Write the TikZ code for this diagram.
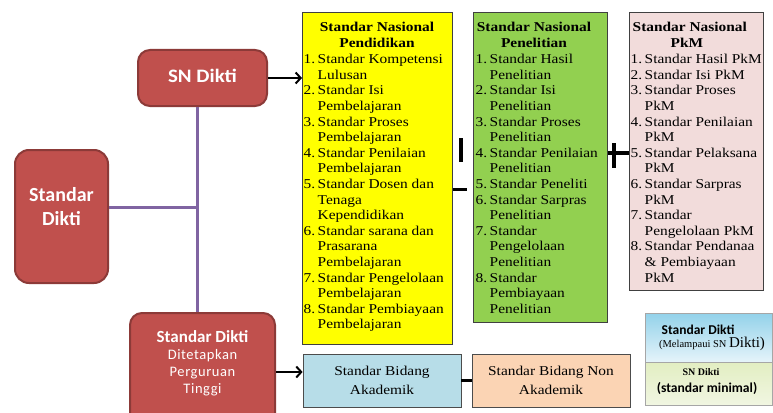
\documentclass[tikz,border=0pt]{standalone}
\usepackage{fontspec}
\setmainfont{Liberation Serif}
\newfontfamily\tnr[FakeStretch=1.14]{Liberation Serif}
\newfontfamily\calf{Carlito}
\newfontfamily\calw[FakeStretch=1.1]{Carlito}
\newfontfamily\calsp[LetterSpace=4]{Carlito}
\usetikzlibrary{arrows.meta}
\definecolor{redfill}{HTML}{C0504D}
\definecolor{redline}{HTML}{8C3A38}
\definecolor{purp}{HTML}{8064A2}
\definecolor{ylw}{HTML}{FFFF00}
\definecolor{grn}{HTML}{92D050}
\definecolor{pnk}{HTML}{F2DCDB}
\definecolor{lblue}{HTML}{B7DDE8}
\definecolor{peach}{HTML}{FBD4B4}
\definecolor{lgtop}{HTML}{93D2EA}
\definecolor{lgmid}{HTML}{E6F4FA}
\definecolor{lggrn}{HTML}{E2EEC2}
\definecolor{lggrnb}{HTML}{F1F6E2}
\newcommand\numi[2]{\makebox[14pt][l]{#1}#2}
\tikzset{
  redbox/.style={draw=redline, line width=2pt, fill=redfill, rounded corners=12pt,
    text=white, align=center, inner sep=0pt},
  listbox/.style={draw=black!75, line width=0.8pt, inner sep=0pt, anchor=north west},
  ttl/.style={font=\tnr\bfseries\fontsize{13.5}{15.6}\selectfont, inner sep=0pt, anchor=north, align=center},
  lst/.style={font=\tnr\fontsize{13.5}{15.6}\selectfont, inner sep=0pt, anchor=north west, align=left},
  arr/.style={-{Straight Barb[length=5pt,width=11pt]}, line width=2pt},
  pline/.style={draw=purp, line width=3pt},
  symline/.style={line width=3.5pt},
  btmbox/.style={draw=black!70, line width=0.8pt, minimum width=158pt, minimum height=53pt,
    font=\tnr\fontsize{13.5}{19}\selectfont, align=center, inner sep=0pt},
}
\begin{document}
\begin{tikzpicture}[x=1pt,y=-1pt]
\clip (0,0) rectangle (773,412);
\fill[white] (0,0) rectangle (773,412);

% red boxes
\node[redbox, minimum width=129pt, minimum height=56pt] (sn) at (202.5,78) {};
\node[text=white, inner sep=0pt, font=\calw\bfseries\fontsize{19}{20}\selectfont] (sntxt) at (202.5,75.5) {SN Dikti};
\node[redbox, rounded corners=14pt, minimum width=93pt, minimum height=133pt] (sd) at (61.5,216.5) {};
\node[text=white, inner sep=0pt, align=center, font=\calf\bfseries\fontsize{20}{24}\selectfont] (sdtxt) at (61.5,207) {Standar\\Dikti};
\node[redbox, minimum width=145pt, minimum height=118pt] (sdpt) at (202.5,372) {};
\node[inner sep=0pt, text=white, font=\calf\bfseries\fontsize{17}{17}\selectfont] (sdpt1) at (202.5,337) {Standar Dikti};
\node[inner sep=0pt, text=white, align=center, anchor=north, font=\calsp\fontsize{14.5}{17}\selectfont] (sdpt2) at (202.5,349) {Ditetapkan\\Perguruan\\Tinggi};

% purple connectors
\coordinate (j) at (197,207);
\draw[pline] (sn.south -| j) -- (sdpt.north -| j);
\draw[pline] (sd.east |- j) -- (j);

% list boxes
\node[listbox, fill=ylw, minimum width=150pt, minimum height=332pt] (yel) at (302,12) {};
\node[listbox, fill=grn, minimum width=134pt, minimum height=310pt] (gre) at (473,12) {};
\node[listbox, fill=pnk, minimum width=134pt, minimum height=278pt] (pin) at (629,12) {};

% arrows
\draw[arr] (sn.east) -- (yel.west |- sn.east);

% yellow text
\node[ttl] (yt) at (377,20.6) {\strut Standar Nasional\\Pendidikan};
\node[lst] (yl) at (303.5,52.6) {\strut\numi{1.}{Standar Kompetensi}\\
\numi{}{Lulusan}\\
\numi{2.}{Standar Isi}\\
\numi{}{Pembelajaran}\\
\numi{3.}{Standar Proses}\\
\numi{}{Pembelajaran}\\
\numi{4.}{Standar Penilaian}\\
\numi{}{Pembelajaran}\\
\numi{5.}{Standar Dosen dan}\\
\numi{}{Tenaga}\\
\numi{}{Kependidikan}\\
\numi{6.}{Standar sarana dan}\\
\numi{}{Prasarana}\\
\numi{}{Pembelajaran}\\
\numi{7.}{Standar Pengelolaan}\\
\numi{}{Pembelajaran}\\
\numi{8.}{Standar Pembiayaan}\\
\numi{}{Pembelajaran}};

% green text
\node[ttl] (gt) at (534,20.6) {\strut Standar Nasional\\Penelitian};
\node[lst] (gl) at (475.5,52.6) {\strut\numi{1.}{Standar Hasil}\\
\numi{}{Penelitian}\\
\numi{2.}{Standar Isi}\\
\numi{}{Penelitian}\\
\numi{3.}{Standar Proses}\\
\numi{}{Penelitian}\\
\numi{4.}{Standar Penilaian}\\
\numi{}{Penelitian}\\
\numi{5.}{Standar Peneliti}\\
\numi{6.}{Standar Sarpras}\\
\numi{}{Penelitian}\\
\numi{7.}{Standar}\\
\numi{}{Pengelolaan}\\
\numi{}{Penelitian}\\
\numi{8.}{Standar}\\
\numi{}{Pembiayaan}\\
\numi{}{Penelitian}};

% pink text
\node[ttl, anchor=north west, align=left] (pt) at (632.5,20.6) {\strut Standar Nasional\\\hspace*{38pt}PkM};
\node[lst] (pl) at (630.5,52.6) {\strut\numi{1.}{Standar Hasil PkM}\\
\numi{2.}{Standar Isi PkM}\\
\numi{3.}{Standar Proses}\\
\numi{}{PkM}\\
\numi{4.}{Standar Penilaian}\\
\numi{}{PkM}\\
\numi{5.}{Standar Pelaksana}\\
\numi{}{PkM}\\
\numi{6.}{Standar Sarpras}\\
\numi{}{PkM}\\
\numi{7.}{Standar}\\
\numi{}{Pengelolaan PkM}\\
\numi{8.}{Standar Pendanaa}\\
\numi{}{\& Pembiayaan}\\
\numi{}{PkM}};

% symbols between boxes
\draw[symline] (461,138) -- (461,162);
\draw[line width=3pt] (yel.east |- 0,189) -- (467,189);
\draw[line width=4pt] (gre.east |- 0,153) -- (pin.west |- 0,153);
\draw[line width=4pt] (614,143) -- (614,168);

% bottom boxes
\node[btmbox, fill=lblue] (ak) at (382,380.5) {Standar Bidang\\Akademik};
\node[btmbox, fill=peach] (nak) at (551,380.5) {Standar Bidang Non\\Akademik};
\draw[arr] (sdpt.east) -- (ak.west |- sdpt.east);
\draw[line width=3pt] (ak.east) -- (nak.west);

% legend
\node[draw=black!35, line width=0.8pt, top color=lgtop, bottom color=lgmid, anchor=north west,
  minimum width=127pt, minimum height=49pt, inner sep=0pt] (lga) at (645,313) {};
\node[draw=black!35, line width=0.8pt, top color=lggrn, bottom color=lggrnb, anchor=north west,
  minimum width=127pt, minimum height=43pt, inner sep=0pt] (lgb) at (645,362) {};
\node[inner sep=0pt, font=\calf\bfseries\fontsize{13.5}{15}\selectfont] (lga1) at (698,330) {Standar Dikti};
\node[inner sep=0pt] (lga2) at (712,344) {{\fontsize{10.5}{12}\selectfont(Melampaui SN }{\fontsize{15}{15}\selectfont Dikti)}};
\node[inner sep=0pt, font=\bfseries\fontsize{10}{12}\selectfont] (lgb1) at (701,372) {SN Dikti};
\node[inner sep=0pt, font=\calf\bfseries\fontsize{13.6}{15}\selectfont] (lgb2) at (707,388) {(standar minimal)};
\end{tikzpicture}
\end{document}
